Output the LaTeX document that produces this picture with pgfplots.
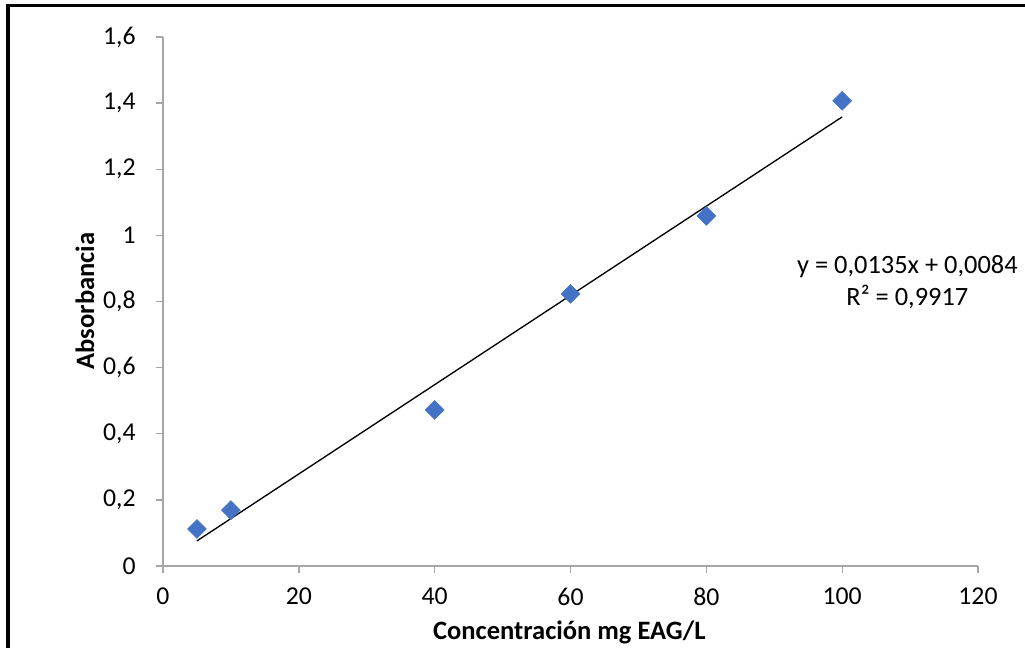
\documentclass[border=0pt]{standalone}
\usepackage{fontspec}
\setmainfont{Carlito}
\usepackage{pgfplots}
\pgfplotsset{compat=1.18}
\definecolor{mk}{HTML}{4472C4}
\definecolor{ax}{HTML}{A6A6A6}
\begin{document}
\begin{tikzpicture}
\begin{scope}[x=0.75pt,y=0.75pt]
\useasboundingbox (0,0) rectangle (1025,646);
\draw[line width=2.3pt,line cap=rect] (8,0) -- (8,640.5) -- (1025,640.5);
\end{scope}
\begin{axis}[
  at={(122.25pt,60pt)}, anchor=south west,
  scale only axis, width=611.25pt, height=396.75pt,
  xmin=0, xmax=120, ymin=0, ymax=1.6,
  xtick={0,20,...,120}, ytick={0,0.2,...,1.6},
  axis lines=left, axis line style={ax, line width=1pt, -},
  tick style={ax, line width=1pt}, tick align=outside,
  major tick length=5pt,
  /pgf/number format/use comma,
  /pgf/number format/assume math mode=true,
  tick label style={font=\fontsize{19.3}{22}\selectfont, black},
  yticklabel style={xshift=-12pt},
  xticklabel style={yshift=-8pt},
  xlabel={\textbf{Concentración mg EAG/L}},
  ylabel={\textbf{Absorbancia}},
  label style={font=\fontsize{19.9}{22}\selectfont},
  xlabel style={at={(axis description cs:0.4985,-0.125)}, anchor=center},
  ylabel style={at={(axis description cs:-0.0957,0.501)}, anchor=center},
  clip=false,
]
\addplot[black, line width=1pt, no marks] coordinates {(5,0.0759) (100,1.3584)};
\addplot[only marks, mark=square*, mark size=5pt, mark options={rotate=45, fill=mk, draw=mk}] coordinates {
(5,0.112) (10,0.169) (40,0.472) (60,0.823) (80,1.059) (100,1.407)};
\node[font=\fontsize{19.8}{24}\selectfont, align=center] at (axis cs:109.6,0.859) {y = 0,0135x + 0,0084\\R² = 0,9917};
\end{axis}
\end{tikzpicture}
\end{document}
